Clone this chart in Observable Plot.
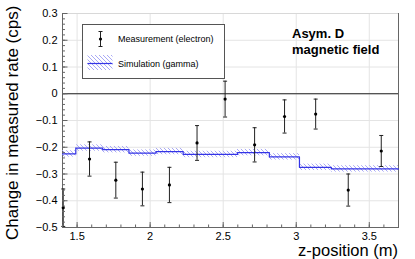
<!DOCTYPE html>
<html>
<head>
<meta charset="utf-8">
<script src="https://cdn.jsdelivr.net/npm/d3@7"></script>
<script src="https://cdn.jsdelivr.net/npm/@observablehq/plot@0.6"></script>
<style>
  body { margin: 0; background: #fff; }
  svg { font-family: "Liberation Sans", Arial, sans-serif; }
</style>
</head>
<body>
<script>
// Measurement (electron)
const zPos     = [1.405, 1.585, 1.765, 1.947, 2.132, 2.321, 2.513, 2.715, 2.920, 3.133, 3.356, 3.582];
const measRate = [-0.426, -0.244, -0.323, -0.356, -0.341, -0.184, -0.020, -0.191, -0.085, -0.076, -0.360, -0.214];
const measErr  = [0.070, 0.064, 0.067, 0.063, 0.066, 0.065, 0.067, 0.064, 0.062, 0.056, 0.060, 0.058];

// Simulation (gamma), binned step histogram
const simEdges = [1.4, 1.491, 1.675, 1.855, 2.040, 2.226, 2.417, 2.598, 2.816, 3.022, 3.240, 3.469, 3.7];
const simRate  = [-0.225, -0.203, -0.209, -0.222, -0.216, -0.227, -0.227, -0.220, -0.236, -0.275, -0.281, -0.281];
const simErr   = [0.012, 0.012, 0.012, 0.012, 0.012, 0.012, 0.012, 0.012, 0.012, 0.012, 0.012, 0.012];

// Ticks
const xMajorTicks = [1.5, 2, 2.5, 3, 3.5];
const yMajorTicks = [-0.5, -0.4, -0.3, -0.2, -0.1, 0, 0.1, 0.2, 0.3];

const meas = zPos.map((z, i) => ({z, v: measRate[i], lo: measRate[i] - measErr[i], hi: measRate[i] + measErr[i]}));
const simBins = simRate.map((v, i) => ({x1: simEdges[i], x2: simEdges[i + 1], v, lo: v - simErr[i], hi: v + simErr[i]}));
const simStep = simEdges.map((e, i) => ({x: e, y: simRate[Math.min(i, simRate.length - 1)]}));

const capSymbol = {
  draw(ctx, size) {
    const w = Math.sqrt(size / Math.PI);
    ctx.moveTo(-w, 0);
    ctx.lineTo(w, 0);
  }
};

const BLUE = "#3434e6";
const AXIS = "#666";

const svg = Plot.plot({
  width: 415,
  height: 259,
  marginLeft: 62,
  marginRight: 17,
  marginTop: 13,
  marginBottom: 32,
  style: {fontFamily: "Liberation Sans, Arial, sans-serif", fontSize: "11px", background: "#fff", color: "#000"},
  x: {domain: [1.4, 3.7]},
  y: {domain: [-0.5, 0.3]},
  marks: [
    Plot.gridX(xMajorTicks, {stroke: "#e4e4e4", strokeOpacity: 1}),
    Plot.gridY(yMajorTicks, {stroke: "#e4e4e4", strokeOpacity: 1}),
    Plot.frame({stroke: AXIS}),
    Plot.ruleY([0.3], {stroke: "#d8d8d8"}),
    Plot.ruleY([0], {stroke: "#222", strokeWidth: 1}),
    Plot.rect(simBins, {x1: "x1", x2: "x2", y1: "lo", y2: "hi", fill: "url(#hatch)"}),
    Plot.line(simStep, {x: "x", y: "y", curve: "step-after", stroke: BLUE, strokeWidth: 1.2}),
    Plot.ruleX(meas, {x: "z", y1: "lo", y2: "hi", stroke: "#222", strokeWidth: 1}),
    Plot.dot(meas, {x: "z", y: "lo", symbol: capSymbol, r: 2, stroke: "#222", strokeWidth: 1}),
    Plot.dot(meas, {x: "z", y: "hi", symbol: capSymbol, r: 2, stroke: "#222", strokeWidth: 1}),
    Plot.dot(meas, {x: "z", y: "v", r: 1.6, fill: "#000", stroke: "none"}),
    // axes: labels
    Plot.axisX(xMajorTicks, {tickSize: 0, tickPadding: 5, label: null, tickFormat: d3.format("~g"), fontSize: 11}),
    Plot.axisY(yMajorTicks, {tickSize: 0, tickPadding: 5, label: null, tickFormat: d3.format("~g"), fontSize: 11}),
    // axes: inner ticks
    Plot.axisX(xMajorTicks, {tickSize: -5, text: null, label: null, stroke: AXIS}),
    Plot.axisX({interval: 0.1, tickSize: -2.5, text: null, label: null, stroke: AXIS}),
    Plot.axisY(yMajorTicks, {tickSize: -5.5, text: null, label: null, stroke: AXIS}),
    Plot.axisY({interval: 0.02, tickSize: -3, text: null, label: null, stroke: AXIS})
  ]
});

document.body.appendChild(svg);

const s = d3.select(svg);
const defs = s.insert("defs", ":first-child");
const pat = defs.append("pattern")
  .attr("id", "hatch")
  .attr("patternUnits", "userSpaceOnUse")
  .attr("width", 4).attr("height", 4);
pat.append("path")
  .attr("d", "M0,0L4,4M-1,3L1,5M3,-1L5,1")
  .attr("stroke", "#a9a9f5")
  .attr("stroke-width", 1);

// Axis titles
s.append("text")
  .attr("x", 398).attr("y", 256)
  .attr("text-anchor", "end")
  .attr("font-size", 16.5)
  .attr("fill", "#000")
  .text("z-position (m)");
s.append("text")
  .attr("transform", "translate(17.5,240) rotate(-90)")
  .attr("text-anchor", "start")
  .attr("font-size", 17)
  .attr("fill", "#000")
  .text("Change in measured rate (cps)");

// Annotation
s.append("text").attr("x", 292).attr("y", 37.5).attr("text-anchor", "start").attr("font-size", 13).attr("font-weight", "bold").text("Asym. D");
s.append("text").attr("x", 292).attr("y", 54).attr("text-anchor", "start").attr("font-size", 13).attr("font-weight", "bold").text("magnetic field");

// Legend
const lg = s.append("g").attr("text-anchor", "start");
lg.append("rect").attr("x", 82.5).attr("y", 24.5).attr("width", 142).attr("height", 54)
  .attr("fill", "#fff").attr("stroke", "#555").attr("stroke-width", 1);
lg.append("line").attr("x1", 100.5).attr("x2", 100.5).attr("y1", 31.5).attr("y2", 46.5).attr("stroke", "#222");
lg.append("line").attr("x1", 98.5).attr("x2", 102.5).attr("y1", 31.5).attr("y2", 31.5).attr("stroke", "#222");
lg.append("line").attr("x1", 98.5).attr("x2", 102.5).attr("y1", 46.5).attr("y2", 46.5).attr("stroke", "#222");
lg.append("circle").attr("cx", 100.5).attr("cy", 39).attr("r", 1.6).attr("fill", "#000");
lg.append("text").attr("x", 118).attr("y", 38.5).attr("dy", "0.35em").attr("font-size", 9).text("Measurement (electron)");
lg.append("rect").attr("x", 87.5).attr("y", 55).attr("width", 25).attr("height", 15).attr("fill", "url(#hatch)");
lg.append("line").attr("x1", 87.5).attr("x2", 112.5).attr("y1", 63.5).attr("y2", 63.5).attr("stroke", BLUE).attr("stroke-width", 1.2);
lg.append("text").attr("x", 118).attr("y", 63.5).attr("dy", "0.35em").attr("font-size", 9).text("Simulation (gamma)");
</script>
</body>
</html>
